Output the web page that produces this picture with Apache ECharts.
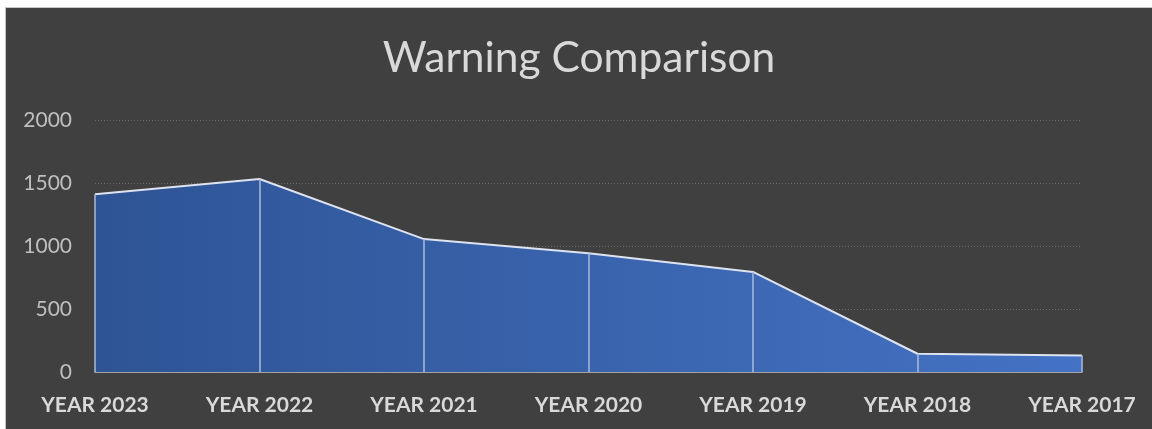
<!DOCTYPE html>
<html>
<head>
<meta charset="utf-8">
<script src="https://cdn.jsdelivr.net/npm/echarts@6/dist/echarts.min.js"></script>
<style>
  html, body { margin: 0; padding: 0; background: #ffffff; width: 1152px; height: 429px; overflow: hidden; }
  #frame { position: absolute; left: 5px; top: 7px; width: 1147px; height: 422px;
           border-left: 1px solid #c4c4c4; border-top: 1px solid #c4c4c4; background: #404040; }
  #chart { width: 1146px; height: 421px; }
</style>
</head>
<body>
<div id="frame"><div id="chart"></div></div>
<script>
// Warnings recorded per year
const categories = ['YEAR 2023', 'YEAR 2022', 'YEAR 2021', 'YEAR 2020', 'YEAR 2019', 'YEAR 2018', 'YEAR 2017'];
const warnings = [1410, 1532, 1055, 942, 794, 145, 130];
const yTicks = { min: 0, max: 2000, interval: 500 };

const chart = echarts.init(document.getElementById('chart'), null, { renderer: 'canvas' });

// vertical drop lines from each point down to the axis
const dropLines = categories.map((c, i) => [
  { coord: [c, 0] },
  { coord: [c, warnings[i]] }
]);

chart.setOption({
  backgroundColor: '#404040',
  animation: false,
  title: {
    text: 'Warning Comparison',
    left: 'center',
    top: 24,
    textStyle: { color: '#d9d9d9', fontSize: 42.5, fontWeight: 'normal', fontFamily: 'Lato' }
  },
  grid: { left: 89, right: 70, top: 112, bottom: 57 },
  xAxis: {
    type: 'category',
    data: categories,
    boundaryGap: false,
    axisLine: { lineStyle: { color: '#bfbfbf', width: 1.5 } },
    axisTick: { show: false },
    axisLabel: { color: '#d9d9d9', fontSize: 21, fontWeight: 'bold', fontFamily: 'Lato', margin: 23 }
  },
  yAxis: {
    type: 'value',
    min: yTicks.min, max: yTicks.max, interval: yTicks.interval,
    axisLine: { show: false },
    axisTick: { show: false },
    axisLabel: { color: '#bfbfbf', fontSize: 21, fontFamily: 'Lato', margin: 23, formatter: v => String(v) },
    splitLine: { lineStyle: { color: '#6a6a6a', type: [1, 2], width: 1 } }
  },
  series: [{
    type: 'line',
    data: warnings,
    symbol: 'none',
    lineStyle: { color: '#dde3f0', width: 2 },
    areaStyle: {
      opacity: 1,
      color: new echarts.graphic.LinearGradient(0, 0, 1, 0, [
        { offset: 0, color: '#2e5495' },
        { offset: 1, color: '#4472c4' }
      ])
    },
    markLine: {
      silent: true,
      symbol: 'none',
      label: { show: false },
      lineStyle: { color: '#a9bbdc', width: 1.5, type: 'solid' },
      data: dropLines
    }
  }]
});
</script>
</body>
</html>
